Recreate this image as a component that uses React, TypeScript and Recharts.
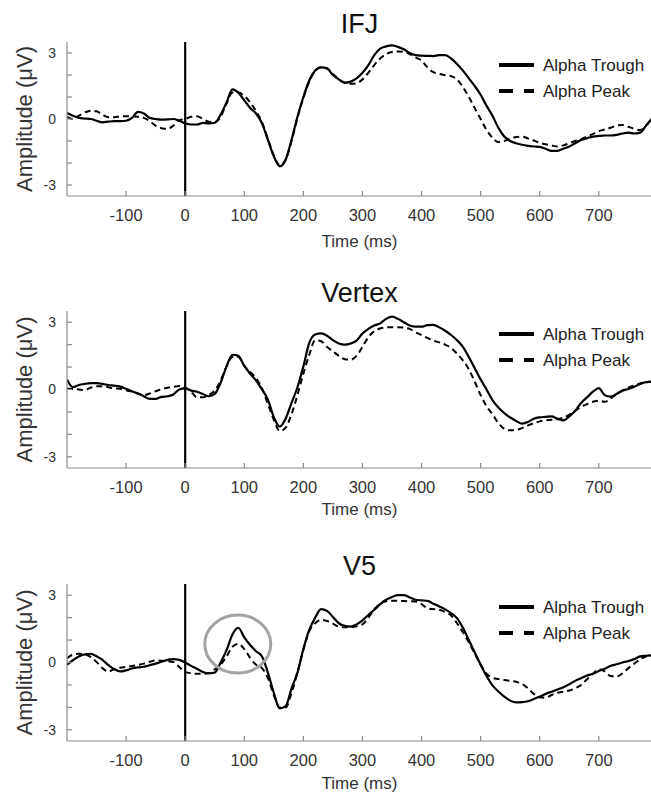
import React from 'react';
import { LineChart, Line, XAxis, YAxis, ReferenceLine, ReferenceDot, Legend } from 'recharts';

const TIMES = [
  -200, -190, -180, -170, -160, -150, -140, -130, -120, -110,
  -100, -90, -80, -70, -60, -50, -40, -30, -20, -10,
  0, 10, 20, 30, 40, 50, 60, 70, 80, 90,
  100, 110, 120, 130, 140, 150, 160, 170, 180, 190,
  200, 210, 220, 230, 240, 250, 260, 270, 280, 290,
  300, 310, 320, 330, 340, 350, 360, 370, 380, 390,
  400, 410, 420, 430, 440, 450, 460, 470, 480, 490,
  500, 510, 520, 530, 540, 550, 560, 570, 580, 590,
  600, 610, 620, 630, 640, 650, 660, 670, 680, 690,
  700, 710, 720, 730, 740, 750, 760, 770, 780, 790,
];

const IFJ_TROUGH = [
  0.27, 0.15, 0.05, 0.02, 0.0, -0.08, -0.15, -0.12, -0.1, -0.1,
  -0.08, 0.05, 0.32, 0.25, 0.05, 0.0, -0.03, -0.02, 0.0, -0.08,
  -0.2, -0.25, -0.25, -0.18, -0.2, -0.17, 0.2, 0.75, 1.35, 1.2,
  0.85, 0.5, 0.25, -0.2, -0.95, -1.7, -2.15, -1.85, -0.95, 0.1,
  1.0, 1.75, 2.2, 2.35, 2.3, 2.0, 1.8, 1.65, 1.7, 1.85,
  2.1, 2.45, 2.9, 3.2, 3.3, 3.35, 3.28, 3.17, 3.0, 2.9,
  2.88, 2.87, 2.86, 2.9, 2.9, 2.75, 2.5, 2.2, 1.85, 1.5,
  1.1, 0.6, 0.15, -0.4, -0.8, -1.0, -1.1, -1.17, -1.22, -1.25,
  -1.27, -1.35, -1.45, -1.45, -1.35, -1.25, -1.1, -0.95, -0.87, -0.8,
  -0.77, -0.75, -0.75, -0.72, -0.66, -0.62, -0.66, -0.62, -0.3, 0.02,
];

const IFJ_PEAK = [
  0.1, 0.0, 0.15, 0.3, 0.38, 0.35, 0.2, 0.08, 0.08, 0.12,
  0.12, 0.12, 0.1, 0.05, -0.1, -0.3, -0.42, -0.45, -0.3, -0.05,
  0.0, 0.1, 0.12, 0.0, -0.12, -0.15, 0.1, 0.7, 1.2, 1.2,
  1.05, 0.75, 0.35, -0.15, -0.9, -1.65, -2.1, -1.85, -1.0, 0.05,
  0.95, 1.7, 2.2, 2.35, 2.3, 2.05, 1.8, 1.65, 1.6, 1.62,
  1.8, 2.1, 2.45, 2.75, 2.95, 3.05, 3.07, 3.05, 2.95, 2.8,
  2.65, 2.35, 2.13, 2.05, 2.0, 1.95, 1.8, 1.45, 1.0, 0.5,
  0.0, -0.5, -0.85, -1.05, -1.0, -0.9, -0.82, -0.8, -0.88, -0.98,
  -1.08, -1.15, -1.2, -1.25, -1.2, -1.1, -1.0, -0.92, -0.8, -0.68,
  -0.55, -0.48, -0.4, -0.3, -0.27, -0.35, -0.45, -0.5, -0.3, 0.05,
];

const VERTEX_TROUGH = [
  0.45, 0.1, 0.2, 0.25, 0.28, 0.28, 0.25, 0.2, 0.17, 0.13,
  0.03, -0.08, -0.18, -0.3, -0.42, -0.42, -0.33, -0.3, -0.22, 0.0,
  0.05, -0.05, -0.1, -0.2, -0.3, -0.2, 0.3, 1.03, 1.55, 1.5,
  1.05, 0.7, 0.4, 0.0, -0.45, -1.23, -1.65, -1.3, -0.6, 0.1,
  1.03, 2.08, 2.45, 2.5, 2.4, 2.2, 2.05, 2.0, 2.05, 2.18,
  2.5, 2.7, 2.85, 2.95, 3.15, 3.25, 3.15, 3.0, 2.85, 2.8,
  2.8, 2.87, 2.88, 2.77, 2.62, 2.43, 2.2, 1.9, 1.45, 0.95,
  0.45, 0.0, -0.47, -0.8, -1.05, -1.25, -1.4, -1.52, -1.45, -1.3,
  -1.24, -1.22, -1.2, -1.3, -1.38, -1.2, -0.95, -0.6, -0.35, -0.1,
  0.06, -0.25, -0.32, -0.2, -0.05, 0.02, 0.12, 0.25, 0.33, 0.35,
];

const VERTEX_PEAK = [
  0.05, 0.02, 0.0, -0.02, 0.08, 0.15, 0.15, 0.1, 0.05, 0.03,
  -0.03, -0.1, -0.18, -0.25, -0.18, -0.08, 0.02, 0.08, 0.12, 0.16,
  0.08, -0.1, -0.35, -0.35, -0.25, -0.05, 0.4, 1.03, 1.45, 1.45,
  1.05, 0.78, 0.5, 0.05, -0.65, -1.35, -1.85, -1.7, -1.1, -0.25,
  0.7, 1.55, 2.2, 2.15, 1.9, 1.7, 1.5, 1.35, 1.33, 1.5,
  1.9, 2.33, 2.6, 2.72, 2.77, 2.78, 2.78, 2.76, 2.7, 2.55,
  2.43, 2.3, 2.18, 2.1, 2.0, 1.85, 1.6, 1.3, 0.9, 0.35,
  -0.25, -0.75, -1.1, -1.5, -1.75, -1.82, -1.8, -1.72, -1.6, -1.5,
  -1.42, -1.37, -1.35, -1.33, -1.25, -1.13, -0.95, -0.78, -0.65, -0.55,
  -0.5, -0.55, -0.4, -0.2, -0.05, 0.08, 0.18, 0.27, 0.32, 0.35,
];

const V5_TROUGH = [
  -0.1, 0.1, 0.27, 0.36, 0.39, 0.28, 0.12, -0.12, -0.3, -0.4,
  -0.35, -0.27, -0.22, -0.19, -0.12, -0.05, 0.03, 0.12, 0.15, 0.12,
  0.0, -0.15, -0.28, -0.42, -0.48, -0.45, 0.0, 0.55, 1.25, 1.55,
  1.12, 0.78, 0.5, 0.27, -0.45, -1.35, -2.05, -1.95, -1.15, -0.45,
  0.6, 1.45, 2.0, 2.38, 2.3, 2.03, 1.75, 1.63, 1.6, 1.7,
  1.88, 2.12, 2.35, 2.6, 2.8, 2.92, 3.0, 3.0, 2.9, 2.8,
  2.77, 2.75, 2.62, 2.5, 2.37, 2.2, 1.98, 1.55, 1.0, 0.45,
  -0.1, -0.6, -1.02, -1.29, -1.52, -1.7, -1.78, -1.77, -1.73, -1.63,
  -1.52, -1.4, -1.3, -1.2, -1.1, -0.97, -0.82, -0.7, -0.58, -0.5,
  -0.38, -0.28, -0.15, -0.08, 0.0, 0.06, 0.15, 0.27, 0.3, 0.32,
];

const V5_PEAK = [
  0.19, 0.35, 0.39, 0.36, 0.25, 0.02, -0.25, -0.4, -0.3, -0.23,
  -0.2, -0.16, -0.11, -0.05, 0.03, 0.09, 0.08, 0.05, 0.02, -0.2,
  -0.42, -0.48, -0.5, -0.5, -0.48, -0.3, -0.1, 0.27, 0.7, 0.83,
  0.6, 0.2, -0.1, -0.25, -0.7, -1.45, -2.0, -2.0, -1.35, -0.45,
  0.56, 1.4, 1.75, 1.9, 1.85, 1.73, 1.6, 1.57, 1.57, 1.62,
  1.7, 2.0, 2.38, 2.62, 2.73, 2.75, 2.75, 2.74, 2.73, 2.72,
  2.6, 2.42, 2.38, 2.35, 2.25, 2.1, 1.75, 1.35, 0.9, 0.4,
  -0.1, -0.5, -0.68, -0.74, -0.78, -0.82, -0.86, -0.95, -1.15, -1.4,
  -1.55, -1.57, -1.45, -1.35, -1.3, -1.25, -1.15, -1.0, -0.75, -0.5,
  -0.3, -0.4, -0.6, -0.63, -0.48, -0.25, -0.05, 0.15, 0.28, 0.34,
];

const X_TICKS = [-100, 0, 100, 200, 300, 400, 500, 600, 700];
const X_DOMAIN = [-200, 790];
const Y_TICKS = [-3, -2, -1, 0, 1, 2, 3];
const Y_LABELED = [-3, 0, 3];
const Y_DOMAIN = [-3.5, 3.5];
const SERIES_NAMES = ['Alpha Trough', 'Alpha Peak'];
const PANEL_TITLES = ['IFJ', 'Vertex', 'V5'];
const X_LABEL = 'Time (ms)';
const Y_LABEL = 'Amplitude (\u03bcV)';
const ONSET = 0;
const V5_HIGHLIGHT = [89, 0.82];

const FONT = '"Liberation Sans", Arial, Helvetica, sans-serif';
const AXIS_GRAY = '#8a8a8a';

function buildData(trough: number[], peak: number[]) {
  return TIMES.map((t, i) => ({ t, trough: trough[i], peak: peak[i] }));
}

const LegendBox = () => (
  <svg width={160} height={56} style={{ display: 'block', overflow: 'visible' }}>
    <line x1={2} x2={37} y1={12} y2={12} stroke="#000" strokeWidth={4} />
    <text x={46} y={12} dominantBaseline="central" fontSize={17} fontFamily={FONT} fill="#222">
      {SERIES_NAMES[0]}
    </text>
    <line x1={2} x2={37} y1={38} y2={38} stroke="#000" strokeWidth={4} strokeDasharray="14 11" />
    <text x={46} y={38} dominantBaseline="central" fontSize={17} fontFamily={FONT} fill="#222">
      {SERIES_NAMES[1]}
    </text>
  </svg>
);

type PanelProps = {
  title: string;
  trough: number[];
  peak: number[];
  top: number;
  plotTop: number;
  plotH: number;
  xLabelDy: number;
  highlight?: number[];
};

function Panel({ title, trough, peak, top, plotTop, plotH, xLabelDy, highlight }: PanelProps) {
  const data = buildData(trough, peak);
  const chartH = 270;
  const xAxisH = chartH - plotTop - plotH;
  return (
    <div style={{ position: 'absolute', left: 0, top, width: 652, height: chartH }}>
      <div
        style={{
          position: 'absolute',
          left: 67,
          width: 585,
          top: plotTop - 34,
          height: 32,
          lineHeight: '32px',
          textAlign: 'center',
          fontSize: 27,
          fontFamily: FONT,
          color: '#111',
        }}
      >
        {title}
      </div>
      <LineChart width={652} height={chartH} data={data} margin={{ top: plotTop, right: 0, bottom: 0, left: 0 }}>
        <XAxis
          xAxisId="b"
          dataKey="t"
          type="number"
          domain={X_DOMAIN}
          allowDataOverflow
          ticks={X_TICKS}
          interval={0}
          height={xAxisH}
          tickSize={-5}
          tickMargin={18}
          axisLine={{ stroke: AXIS_GRAY, strokeWidth: 1.2 }}
          tickLine={{ stroke: AXIS_GRAY, strokeWidth: 1.2 }}
          tick={{ fontSize: 16.5, fill: '#333', fontFamily: FONT }}
          label={{
            content: (p: any) => {
              const vb = p.viewBox;
              return (
                <text
                  x={vb.x + vb.width / 2}
                  y={vb.y + xLabelDy}
                  textAnchor="middle"
                  dominantBaseline="central"
                  fontSize={17}
                  fontFamily={FONT}
                  fill="#333"
                >
                  {X_LABEL}
                </text>
              );
            },
          }}
        />
        <XAxis
          xAxisId="top"
          orientation="top"
          dataKey="t"
          type="number"
          domain={X_DOMAIN}
          allowDataOverflow
          ticks={X_TICKS}
          interval={0}
          height={0}
          tickSize={-5}
          tickFormatter={() => ''}
          axisLine={{ stroke: AXIS_GRAY, strokeWidth: 1.2 }}
          tickLine={{ stroke: AXIS_GRAY, strokeWidth: 1.2 }}
        />
        <YAxis
          yAxisId="l"
          type="number"
          domain={Y_DOMAIN}
          allowDataOverflow
          ticks={Y_TICKS}
          interval={0}
          width={67}
          tickSize={-5}
          tickMargin={16}
          tickFormatter={(v: number) => (Y_LABELED.includes(v) ? String(v) : '')}
          axisLine={{ stroke: AXIS_GRAY, strokeWidth: 1.2 }}
          tickLine={{ stroke: AXIS_GRAY, strokeWidth: 1.2 }}
          tick={{ fontSize: 14, fill: '#333', fontFamily: FONT }}
          label={{
            content: (p: any) => {
              const vb = p.viewBox;
              const cx = vb.x + 24;
              const cy = vb.y + vb.height / 2;
              return (
                <text
                  x={cx}
                  y={cy}
                  transform={`rotate(-90, ${cx}, ${cy})`}
                  textAnchor="middle"
                  dominantBaseline="central"
                  fontSize={22}
                  fontFamily={FONT}
                  fill="#333"
                >
                  {Y_LABEL}
                </text>
              );
            },
          }}
        />
        <ReferenceLine xAxisId="b" yAxisId="l" x={ONSET} stroke="#000" strokeWidth={2.2} />
        <Line
          xAxisId="b"
          yAxisId="l"
          type="monotone"
          dataKey="peak"
          name={SERIES_NAMES[1]}
          stroke="#000"
          strokeWidth={2}
          strokeDasharray="6 4"
          dot={false}
          isAnimationActive={false}
        />
        <Line
          xAxisId="b"
          yAxisId="l"
          type="monotone"
          dataKey="trough"
          name={SERIES_NAMES[0]}
          stroke="#000"
          strokeWidth={2.2}
          dot={false}
          isAnimationActive={false}
        />
        {highlight && (
          <ReferenceDot
            xAxisId="b"
            yAxisId="l"
            x={highlight[0]}
            y={highlight[1]}
            r={30}
            shape={(p: any) => (
              <ellipse cx={p.cx} cy={p.cy} rx={33} ry={29} fill="none" stroke="#a3a3a3" strokeWidth={3} />
            )}
          />
        )}
        <Legend
          layout="horizontal"
          verticalAlign="middle"
          align="center"
          content={LegendBox}
          wrapperStyle={{ position: 'absolute', left: 497, top: plotTop + 11, width: 160, height: 56 }}
        />
      </LineChart>
    </div>
  );
}

export default function App() {
  return (
    <div
      style={{
        position: 'absolute',
        left: 0,
        top: 0,
        width: 651,
        height: 796,
        overflow: 'hidden',
        background: '#fff',
        fontFamily: FONT,
      }}
    >
      <Panel title={PANEL_TITLES[0]} trough={IFJ_TROUGH} peak={IFJ_PEAK} top={0} plotTop={42} plotH={154} xLabelDy={45} />
      <Panel title={PANEL_TITLES[1]} trough={VERTEX_TROUGH} peak={VERTEX_PEAK} top={270} plotTop={41} plotH={157} xLabelDy={41} />
      <Panel
        title={PANEL_TITLES[2]}
        trough={V5_TROUGH}
        peak={V5_PEAK}
        top={540}
        plotTop={44}
        plotH={157}
        xLabelDy={42}
        highlight={V5_HIGHLIGHT}
      />
    </div>
  );
}
